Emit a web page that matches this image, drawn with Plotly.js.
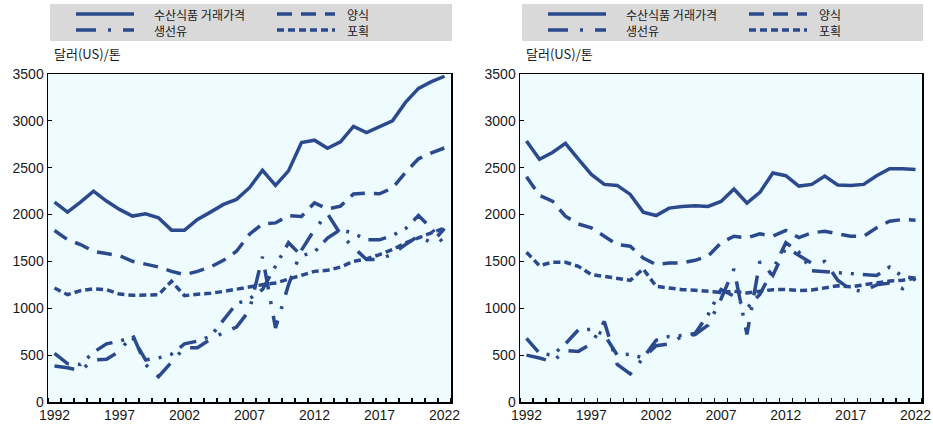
<!DOCTYPE html>
<html>
<head>
<meta charset="utf-8">
<script src="https://cdn.plot.ly/plotly-3.0.1.min.js"></script>
<style>
  body { margin: 0; background: #fff; }
  #plotArea { width: 933px; height: 430px; }
</style>
</head>
<body>
<div id="plotArea"></div>
<script>
// years 1992-2022
var years = [];
for (var y = 1992; y <= 2022; y++) years.push(y);

// nominal (left)
var tradedNom = [2133, 2026, 2133, 2250, 2144, 2055, 1984, 2008, 1966, 1834, 1834, 1948, 2026, 2108, 2162, 2287, 2473, 2312, 2466, 2769, 2794, 2708, 2776, 2940, 2876, 2937, 3001, 3197, 3347, 3419, 3476];
var aquaNom = [1830, 1733, 1680, 1608, 1584, 1562, 1502, 1476, 1441, 1394, 1359, 1394, 1441, 1512, 1608, 1790, 1900, 1911, 1990, 1980, 2125, 2060, 2090, 2220, 2228, 2222, 2283, 2450, 2595, 2658, 2711];
var captureNom = [1216, 1145, 1188, 1209, 1198, 1152, 1138, 1145, 1145, 1288, 1135, 1150, 1160, 1180, 1205, 1225, 1252, 1270, 1312, 1359, 1394, 1405, 1440, 1502, 1527, 1573, 1626, 1698, 1751, 1805, 1858];
var fishOilNom = [385, 365, 335, 450, 455, 540, 720, 400, 270, 420, 580, 580, 670, 740, 800, 980, 1550, 790, 1250, 1620, 1840, 2010, 1790, 1650, 1520, 1520, 1580, 1680, 1770, 1700, 1850];
var fishMealNom = [520, 410, 400, 530, 620, 650, 690, 450, 470, 510, 620, 650, 700, 880, 1050, 1100, 1200, 1450, 1700, 1560, 1600, 1750, 1840, 1800, 1730, 1730, 1776, 1850, 1990, 1850, 1680];

// real (right)
var tradedReal = [2786, 2591, 2662, 2760, 2591, 2429, 2322, 2311, 2215, 2026, 1990, 2069, 2087, 2094, 2087, 2140, 2272, 2123, 2237, 2444, 2415, 2304, 2322, 2411, 2315, 2311, 2322, 2415, 2490, 2490, 2480];
var aquaReal = [2404, 2204, 2144, 1982, 1900, 1858, 1769, 1680, 1662, 1537, 1466, 1484, 1484, 1512, 1555, 1698, 1769, 1751, 1794, 1769, 1830, 1755, 1805, 1822, 1794, 1769, 1769, 1858, 1929, 1947, 1940];
var captureReal = [1598, 1455, 1491, 1491, 1448, 1359, 1341, 1323, 1298, 1420, 1234, 1216, 1199, 1192, 1181, 1170, 1181, 1163, 1181, 1199, 1200, 1190, 1195, 1220, 1240, 1230, 1250, 1270, 1290, 1300, 1320];
var fishOilReal = [500, 470, 430, 550, 540, 620, 860, 400, 300, 470, 600, 620, 700, 720, 820, 1100, 1420, 720, 1500, 1350, 1650, 1560, 1480, 1500, 1300, 1200, 1180, 1250, 1270, 1210, 1320];
var fishMealReal = [680, 520, 500, 620, 770, 775, 720, 500, 510, 470, 660, 700, 710, 730, 930, 1200, 1130, 1000, 1150, 1410, 1700, 1600, 1400, 1390, 1380, 1370, 1360, 1350, 1440, 1340, 1320];

var blue = '#2b4a8e';
var tickYears = [1992, 1997, 2002, 2007, 2012, 2017, 2022];

function mk(vals, dash, xa, ya) {
    return {
        x: years, y: vals, type: 'scatter', mode: 'lines',
        line: {color: blue, width: 3.5, dash: dash},
        xaxis: xa, yaxis: ya, showlegend: false, hoverinfo: 'skip'
    };
}

var dashAqua = '15px,9px';
var dashCap = '7px,4px';
var dashOil = '20px,12px,3px,12px';
var dashMeal = '18px,9px,3px,9px,3px,9px';

var data = [
    mk(tradedNom, 'solid', 'x', 'y'),
    mk(aquaNom, dashAqua, 'x', 'y'),
    mk(captureNom, dashCap, 'x', 'y'),
    mk(fishOilNom, dashOil, 'x', 'y'),
    mk(fishMealNom, dashMeal, 'x', 'y'),
    mk(tradedReal, 'solid', 'x2', 'y2'),
    mk(aquaReal, dashAqua, 'x2', 'y2'),
    mk(captureReal, dashCap, 'x2', 'y2'),
    mk(fishOilReal, dashOil, 'x2', 'y2'),
    mk(fishMealReal, dashMeal, 'x2', 'y2')
];

function xAxis(dom) {
    return {
        domain: dom, range: [1991.5, 2022.5],
        tickvals: tickYears, ticks: '', showgrid: false, zeroline: false,
        showline: true, mirror: true, linecolor: '#000', linewidth: 1.5,
        tickfont: {family: 'Liberation Sans, Arial', size: 14, color: '#1a1a1a'},
        minor: {tick0: 1991.5, dtick: 1, ticks: 'inside', ticklen: 4, tickcolor: '#000', tickwidth: 1.2, showgrid: false}
    };
}
function yAxis(dom, anchor) {
    return {
        domain: dom, range: [0, 3500], dtick: 500, anchor: anchor,
        ticks: 'inside', ticklen: 4, tickcolor: '#000', showgrid: false, zeroline: false,
        showline: true, mirror: true, linecolor: '#000', linewidth: 1.5,
        tickfont: {family: 'Liberation Sans, Arial', size: 14, color: '#1a1a1a'}
    };
}

var W = 933, H = 430;
var ydom = [(H - 402) / H, (H - 74) / H];
var panels = [[48, 451], [520, 922]];

var shapes = [];
var annotations = [];
panels.forEach(function(p, i) {
    // legend box
    shapes.push({type: 'rect', xref: 'paper', yref: 'paper', x0: (p[0] + 2) / W, x1: (p[1] + 1) / W,
        y0: (H - 41) / H, y1: (H - 4) / H, fillcolor: '#d9d9d9', line: {width: 0}, layer: 'below'});
    var items = [
        {dash: 'solid', lx: 28, ly: 14, label: '수산식품 거래가격', tx: 104},
        {dash: dashOil, lx: 28, ly: 30, label: '생선유', tx: 104},
        {dash: dashAqua, lx: 229, ly: 14, label: '양식', tx: 297},
        {dash: dashCap, lx: 229, ly: 30, label: '포획', tx: 297}
    ];
    items.forEach(function(it) {
        shapes.push({type: 'line', xref: 'paper', yref: 'paper',
            x0: (p[0] + it.lx) / W, x1: (p[0] + it.lx + 58) / W,
            y0: (H - it.ly) / H, y1: (H - it.ly) / H,
            line: {color: blue, width: 3.5, dash: it.dash}});
        annotations.push({xref: 'paper', yref: 'paper', x: (p[0] + it.tx) / W, y: (H - it.ly) / H,
            xanchor: 'left', yanchor: 'middle', showarrow: false, text: it.label,
            font: {family: 'Noto Sans CJK KR', size: 12, color: '#1a1a1a'}});
    });
    annotations.push({xref: 'paper', yref: 'paper', x: (p[0] + 4) / W, y: (H - 53) / H,
        xanchor: 'left', yanchor: 'middle', showarrow: false, text: '달러(US)/톤',
        font: {family: 'Noto Sans CJK KR', size: 13, color: '#1a1a1a'}});
});

var layout = {
    width: W, height: H,
    margin: {l: 0, r: 0, t: 0, b: 0},
    paper_bgcolor: '#fff', plot_bgcolor: '#effcff',
    showlegend: false,
    xaxis: Object.assign(xAxis([48 / W, 451 / W]), {anchor: 'y'}),
    yaxis: yAxis(ydom, 'x'),
    xaxis2: Object.assign(xAxis([520 / W, 922 / W]), {anchor: 'y2'}),
    yaxis2: yAxis(ydom, 'x2'),
    shapes: shapes,
    annotations: annotations
};

Plotly.newPlot('plotArea', data, layout, {displayModeBar: false, staticPlot: true});
</script>
</body>
</html>
